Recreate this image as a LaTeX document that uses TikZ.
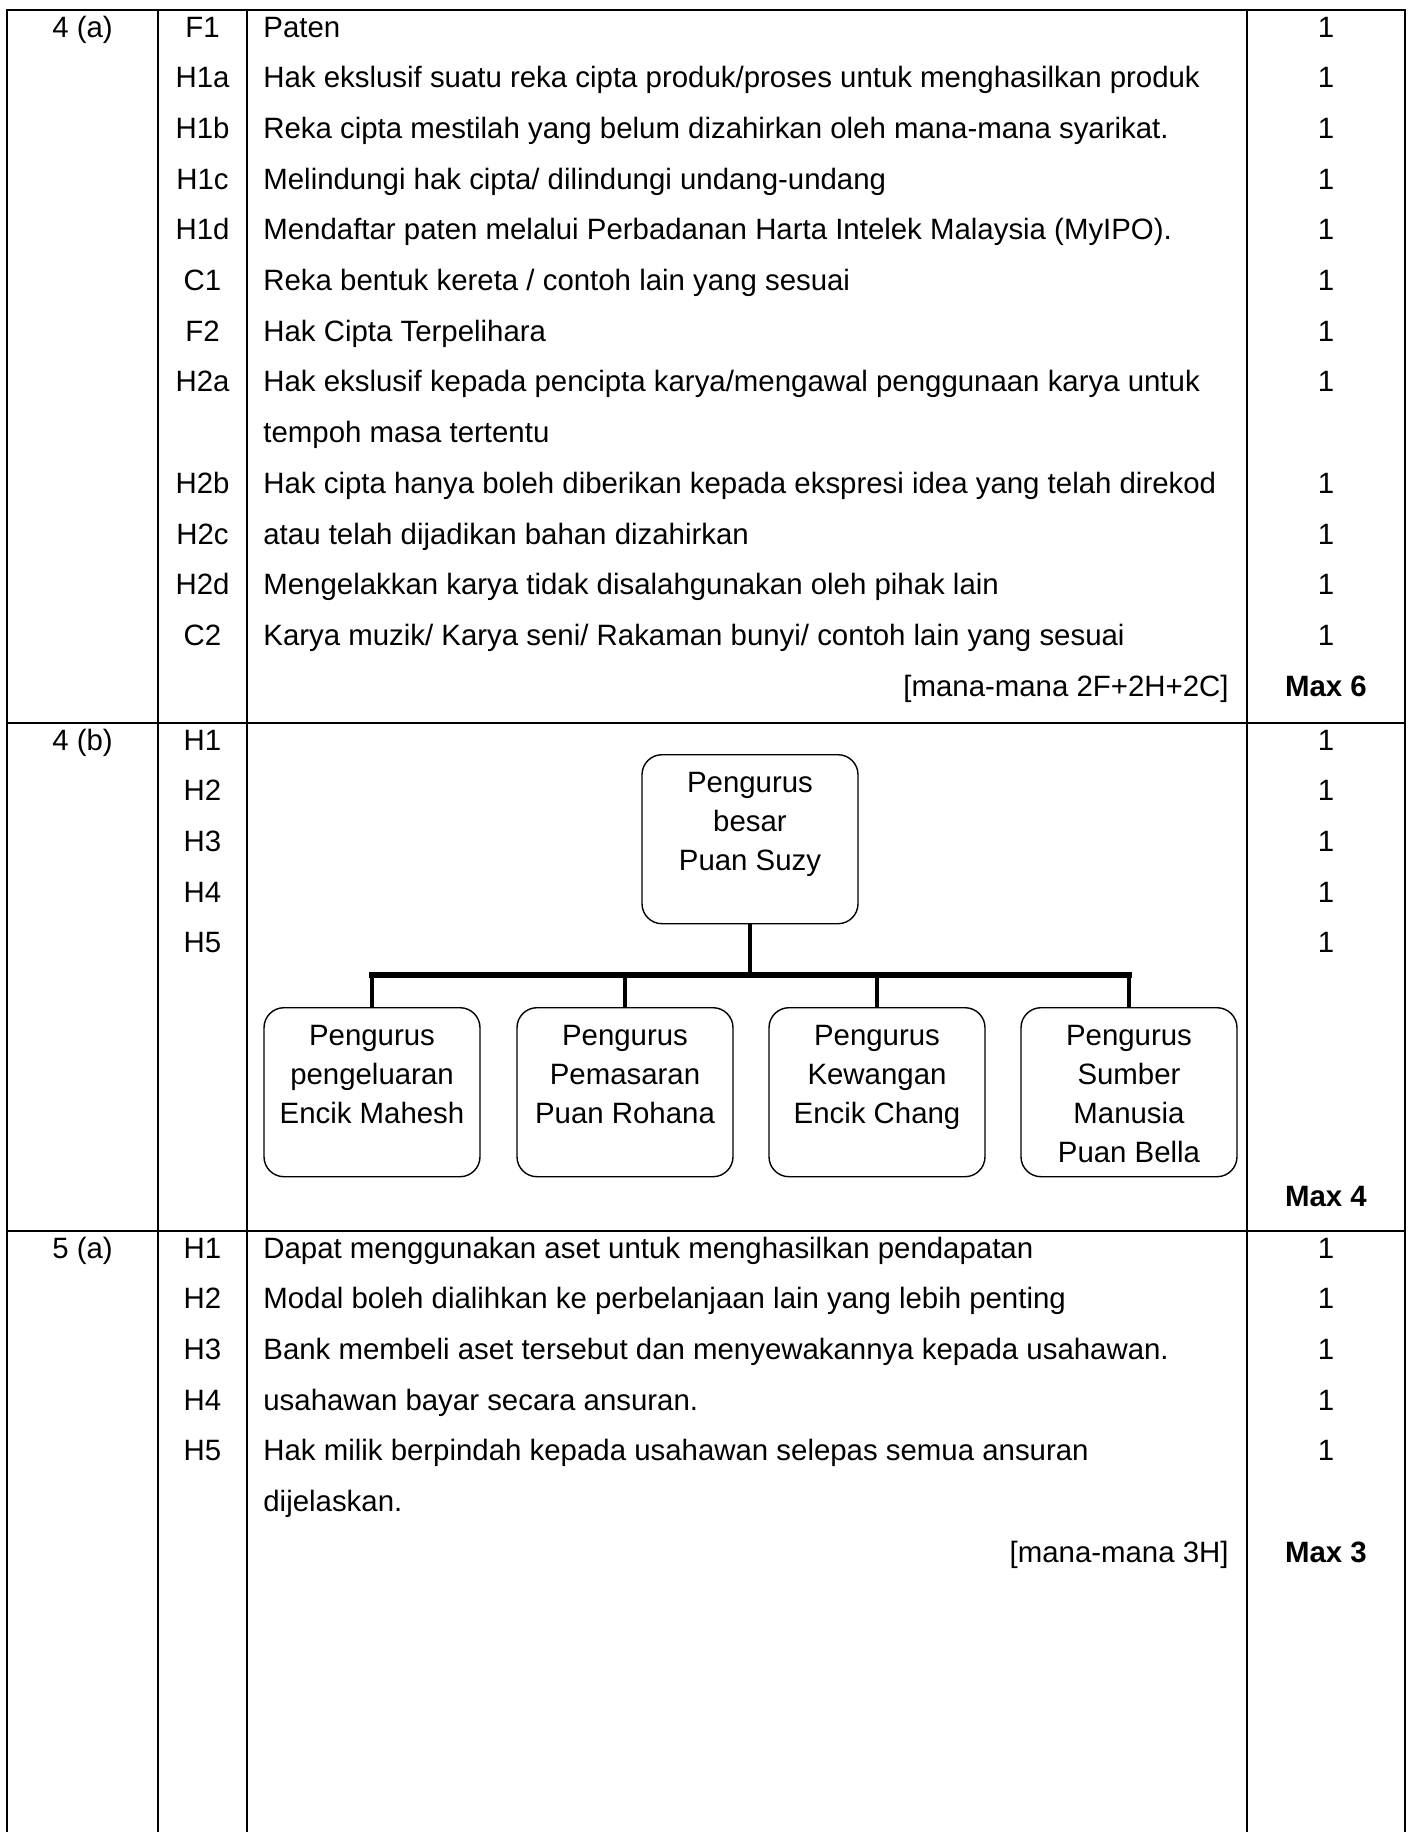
\documentclass[tikz,border=0pt]{standalone}
\usepackage{fontspec}
\setmainfont{Liberation Sans}
\newcommand{\cellsize}{\fontsize{14.7}{17.6}\selectfont}
\newcommand{\orgsize}{\fontsize{14.7}{19.5}\selectfont}
\newcommand{\orglines}[1]{\parbox[t][67.1pt][t]{100pt}{\centering\orgsize #1}}

\begin{document}
\begin{tikzpicture}[x=0.5pt,y=-0.5pt,
  rule/.style={line width=1pt},
  cell/.style={anchor=base,inner sep=0pt,font=\cellsize},
  lcell/.style={cell,anchor=base west},
  rcell/.style={cell,anchor=base east},
  orgbox/.style={draw,line width=0.7pt,rounded corners=10pt,inner xsep=4pt,inner ysep=8.7pt,anchor=north},
  branch/.style={line width=2.3pt},
  trunk/.style={line width=3pt,line cap=rect}]
\useasboundingbox (0,0) rectangle (1411,1832);

% table rules
\draw[rule] (7,1832) -- (7,10) -- (1405,10) -- (1405,1832);
\foreach \x in {158,247,1247} \draw[rule] (\x,10) -- (\x,1832);
\draw[rule] (7,723) -- (1405,723);
\draw[rule] (7,1231) -- (1405,1231);

% 4 (a)
\node[cell] (q4a) at (82.5,37) {4 (a)};
\foreach \c/\t/\m [count=\i from 0] in {%
F1/{Paten}/1,%
H1a/{Hak ekslusif suatu reka cipta produk/proses untuk menghasilkan produk}/1,%
H1b/{Reka cipta mestilah yang belum dizahirkan oleh mana-mana syarikat.}/1,%
H1c/{Melindungi hak cipta/ dilindungi undang-undang}/1,%
H1d/{Mendaftar paten melalui Perbadanan Harta Intelek Malaysia (MyIPO).}/1,%
C1/{Reka bentuk kereta / contoh lain yang sesuai}/1,%
F2/{Hak Cipta Terpelihara}/1,%
H2a/{Hak ekslusif kepada pencipta karya/mengawal penggunaan karya untuk}/1,%
{}/{tempoh masa tertentu}/{},%
H2b/{Hak cipta hanya boleh diberikan kepada ekspresi idea yang telah direkod}/1,%
H2c/{atau telah dijadikan bahan dizahirkan}/1,%
H2d/{Mengelakkan karya tidak disalahgunakan oleh pihak lain}/1,%
C2/{Karya muzik/ Karya seni/ Rakaman bunyi/ contoh lain yang sesuai}/1%
}{
  \node[cell] (a-code\i) at (202.5,{37+50.7*\i}) {\c};
  \node[lcell] (a-text\i) at (263,{37+50.7*\i}) {\t};
  \node[cell] (a-mark\i) at (1326,{37+50.7*\i}) {\m};
}
\node[rcell] (a-any) at (1229,696) {[mana-mana 2F+2H+2C]};
\node[cell,font=\cellsize\bfseries] (a-max) at (1326,696) {Max 6};

% 4 (b)
\node[cell] (q4b) at (82.5,750) {4 (b)};
\foreach \c [count=\i from 0] in {H1,H2,H3,H4,H5}{
  \node[cell] (b-code\i) at (202.5,{750+50.7*\i}) {\c};
  \node[cell] (b-mark\i) at (1326,{750+50.7*\i}) {1};
}
\node[cell,font=\cellsize\bfseries] (b-max) at (1326,1206.3) {Max 4};

\node[orgbox] (suzy) at (750,754) {\orglines{Pengurus\\besar\\Puan Suzy}};
\node[orgbox] (mahesh) at (372,1007) {\orglines{Pengurus\\pengeluaran\\Encik Mahesh}};
\node[orgbox] (rohana) at (625,1007) {\orglines{Pengurus\\Pemasaran\\Puan Rohana}};
\node[orgbox] (chang) at (877,1007) {\orglines{Pengurus\\Kewangan\\Encik Chang}};
\node[orgbox] (bella) at (1129,1007) {\orglines{Pengurus\\Sumber\\Manusia\\Puan Bella}};
\coordinate (barL) at (372,975);
\coordinate (barR) at (1129,975);
\draw[trunk] (barL) -- (barR);
\draw[branch] (suzy.south) -- (suzy.south |- barL);
\foreach \n in {mahesh,rohana,chang,bella} \draw[branch] (\n.north) -- (\n.north |- barL);

% 5 (a)
\node[cell] (q5a) at (82.5,1258) {5 (a)};
\foreach \c/\t/\m [count=\i from 0] in {%
H1/{Dapat menggunakan aset untuk menghasilkan pendapatan}/1,%
H2/{Modal boleh dialihkan ke perbelanjaan lain yang lebih penting}/1,%
H3/{Bank membeli aset tersebut dan menyewakannya kepada usahawan.}/1,%
H4/{usahawan bayar secara ansuran.}/1,%
H5/{Hak milik berpindah kepada usahawan selepas semua ansuran}/1,%
{}/{dijelaskan.}/{}%
}{
  \node[cell] (c-code\i) at (202.5,{1258+50.7*\i}) {\c};
  \node[lcell] (c-text\i) at (263,{1258+50.7*\i}) {\t};
  \node[cell] (c-mark\i) at (1326,{1258+50.7*\i}) {\m};
}
\node[rcell] (c-any) at (1229,1562.2) {[mana-mana 3H]};
\node[cell,font=\cellsize\bfseries] (c-max) at (1326,1562.2) {Max 3};
\end{tikzpicture}
\end{document}
